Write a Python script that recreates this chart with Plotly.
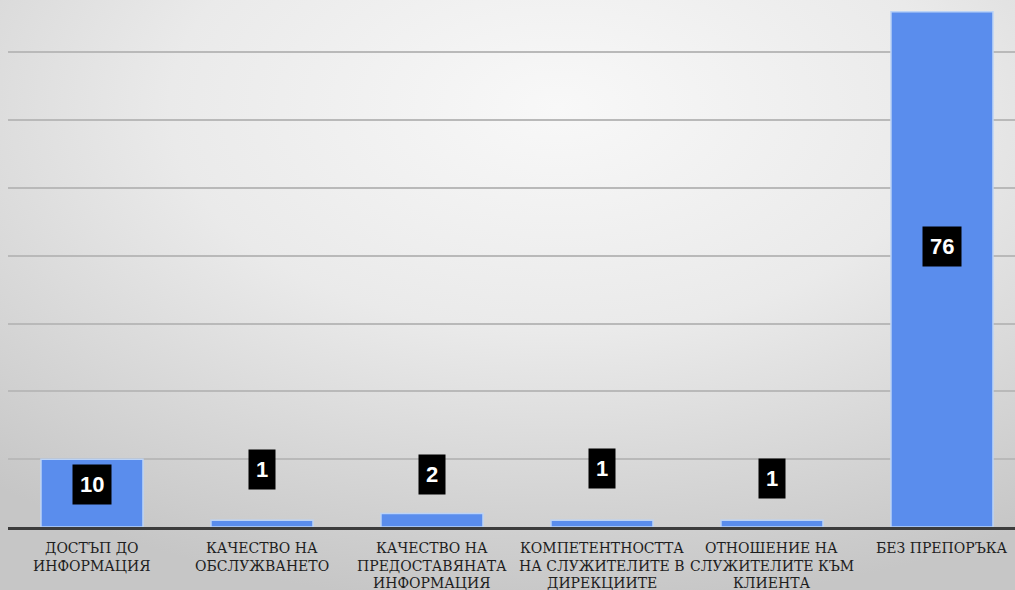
import base64
import plotly.graph_objects as go

categories = [
    "ДОСТЪП ДО<br>ИНФОРМАЦИЯ",
    "КАЧЕСТВО НА<br>ОБСЛУЖВАНЕТО",
    "КАЧЕСТВО НА<br>ПРЕДОСТАВЯНАТА<br>ИНФОРМАЦИЯ",
    "КОМПЕТЕНТНОСТТА<br>НА СЛУЖИТЕЛИТЕ В<br>ДИРЕКЦИИТЕ",
    "ОТНОШЕНИЕ НА<br>СЛУЖИТЕЛИТЕ КЪМ<br>КЛИЕНТА",
    "БЕЗ ПРЕПОРЪКА",
]
values = [10, 1, 2, 1, 1, 76]
# vertical placement of the value labels (data units)
label_y = [6.3, 8.55, 7.75, 8.6, 7.15, 41.4]

W, H = 1015, 590
ML, MR, MT, MB = 8, 0, 0, 63
pw, ph = W - ML - MR, H - MT - MB

svg = f"""<svg xmlns='http://www.w3.org/2000/svg' width='{W}' height='{H}'>
<defs><radialGradient id='g' cx='55%' cy='18%' r='85%' gradientUnits='objectBoundingBox'>
<stop offset='0' stop-color='#f8f8f8'/><stop offset='0.45' stop-color='#eaeaea'/><stop offset='1' stop-color='#c6c6c6'/>
</radialGradient></defs><rect width='{W}' height='{H}' fill='url(#g)'/></svg>"""
bg_uri = "data:image/svg+xml;base64," + base64.b64encode(svg.encode()).decode()

fig = go.Figure()
fig.add_trace(go.Bar(
    x=categories, y=values, width=0.6,
    marker=dict(color="#5a8ded", line=dict(color="#bcd3f6", width=1.5)),
    hoverinfo="skip",
))

for c, v, ly in zip(categories, values, label_y):
    fig.add_annotation(
        x=c, y=ly, text=f"<b>{v}</b>", showarrow=False,
        font=dict(family="Liberation Sans", size=22, color="white"),
        bgcolor="black", borderpad=7,
    )

# category labels (one annotation per line for tighter line spacing)
for c in categories:
    for i, line in enumerate(c.split("<br>")):
        fig.add_annotation(
            x=c, y=0, xref="x", yref="y", text=line, showarrow=False,
            yanchor="middle", yshift=-(21 + 17.5 * i),
            font=dict(family="DejaVu Serif", size=14, color="#1e1e1e"),
        )

fig.add_layout_image(dict(
    source=bg_uri, xref="paper", yref="paper",
    x=-ML / pw, y=1 + MT / ph, sizex=W / pw, sizey=H / ph,
    xanchor="left", yanchor="top", sizing="stretch", layer="below",
))

fig.update_layout(
    width=W, height=H,
    margin=dict(l=ML, r=MR, t=MT, b=MB, autoexpand=False),
    paper_bgcolor="rgba(0,0,0,0)", plot_bgcolor="rgba(0,0,0,0)",
    showlegend=False,
    xaxis=dict(
        range=[-0.494, -0.494 + pw / 170], showgrid=False,
        showline=True, linecolor="#3c3c3c", linewidth=3,
        showticklabels=False, ticks="",
        automargin=False,
    ),
    yaxis=dict(
        range=[0, ph / 6.78], showticklabels=False, showgrid=True,
        gridcolor="#b9b9b9", gridwidth=2, dtick=10, zeroline=False,
        automargin=False,
    ),
)

fig.write_html("out.html")
